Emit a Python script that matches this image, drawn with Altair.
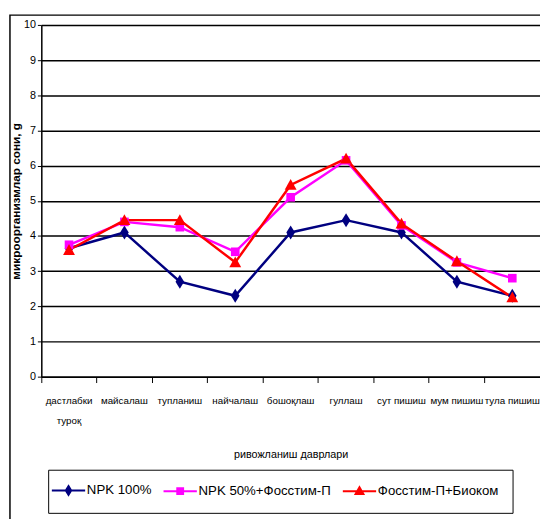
import altair as alt
import pandas as pd

stages = ["дастлабки туроқ", "майсалаш", "тупланиш", "найчалаш", "бошоқлаш",
          "гуллаш", "сут пишиш", "мум пишиш", "тула пишиш"]
series_names = ["NPK 100%", "NPK 50%+Фосстим-П", "Фосстим-П+Биоком"]
npk100 = [3.65, 4.1, 2.7, 2.3, 4.1, 4.45, 4.1, 2.7, 2.3]
npk50_fosstim = [3.75, 4.4, 4.25, 3.55, 5.1, 6.15, 4.3, 3.25, 2.8]
fosstim_biokom = [3.6, 4.45, 4.45, 3.25, 5.45, 6.2, 4.35, 3.28, 2.25]
colors = ["#000080", "#FF00FF", "#FF0000"]
y_ticks = list(range(0, 11))

rows = []
for name, vals in zip(series_names, [npk100, npk50_fosstim, fosstim_biokom]):
    for i, (s, v) in enumerate(zip(stages, vals)):
        rows.append({"stage": s, "idx": i, "series": name, "value": v})
df = pd.DataFrame(rows)

FONT = "Liberation Sans, Arial, sans-serif"

point_paths = ["M0,-1.3L0.8,0L0,1.3L-0.8,0Z",
               "M-0.8,-0.8H0.8V0.8H-0.8Z",
               "M0,-1.1L1.1,0.9L-1.1,0.9Z"]
legend_paths = ["M-3.4,0H3.4M0,-0.9L0.55,0L0,0.9L-0.55,0Z",
                "M-3.4,0H3.4M-0.6,-0.6H0.6V0.6H-0.6Z",
                "M-3.4,0H3.4M0,-0.8L0.8,0.6L-0.8,0.6Z"]

x_axis = alt.Axis(bandPosition=0, labelAngle=0,
                  labelExpr="datum.label == 'дастлабки туроқ' ? ['дастлабки', 'туроқ'] : datum.label",
                  labelFont=FONT, labelFontSize=10, labelColor="black",
                  labelPadding=13, labelLineHeight=21, labelOverlap=False,
                  titleFont=FONT, titleFontSize=11, titleFontWeight="normal",
                  titleColor="black", titlePadding=24,
                  tickColor="black", tickSize=6, domainColor="black",
                  domainWidth=1.5, grid=False)
y_axis = alt.Axis(values=y_ticks, labelFont=FONT, labelFontSize=11,
                  labelColor="black", tickColor="black", tickSize=4,
                  domainColor="black", domainWidth=1.5,
                  grid=True, gridColor="black", gridWidth=1.5,
                  titleFont=FONT, titleFontSize=12, titleFontWeight="bold",
                  titleColor="black", titlePadding=1)


def xe():
    return alt.X("stage:N", sort=stages, bandPosition=0.5,
                 scale=alt.Scale(type="band", domain=stages, paddingInner=0, paddingOuter=0),
                 title="ривожланиш даврлари", axis=x_axis)


def ye():
    return alt.Y("value:Q", scale=alt.Scale(domain=[0, 10], nice=False),
                 title="микроорганизмлар сони, g", axis=y_axis)


color_scale = alt.Scale(domain=series_names, range=colors)

frame = alt.Chart(pd.DataFrame({"a": [0]})).mark_rect(
    fill=None, stroke="black", strokeWidth=1.5
).encode(x=alt.value(-32), x2=alt.value(620), y=alt.value(-10), y2=alt.value(600))

lines = alt.Chart(df).mark_line(strokeWidth=2.5).encode(
    x=xe(), y=ye(),
    color=alt.Color("series:N", scale=color_scale, legend=None),
    order=alt.Order("idx:Q"),
)

point_layers = []
for name, path in zip(series_names, point_paths):
    point_layers.append(
        alt.Chart(df).transform_filter(alt.datum.series == name).mark_point(
            filled=True, size=121, opacity=1, shape=path).encode(
            x=xe(), y=ye(),
            color=alt.Color("series:N", scale=color_scale, legend=None),
        )
    )

leg = alt.Legend(title=None, orient="none", legendX=7, legendY=454,
                 direction="horizontal", strokeColor="black",
                 padding=14, labelFont=FONT, labelFontSize=13.5,
                 labelColor="black", symbolSize=100,
                 symbolStrokeWidth=2, labelOffset=12,
                 columnPadding=7, symbolOpacity=1)
legend_layer = alt.Chart(df).transform_filter("false").mark_point(
    filled=True, strokeWidth=2).encode(
    x=xe(), y=ye(),
    color=alt.Color("series:N", scale=color_scale, legend=leg),
    stroke=alt.Stroke("series:N", scale=color_scale, legend=leg),
    shape=alt.Shape("series:N", scale=alt.Scale(domain=series_names, range=legend_paths),
                    legend=leg),
)

chart = alt.layer(frame, legend_layer, lines, *point_layers).properties(
    width=509, height=359,
    autosize=alt.AutoSizeParams(type="none"),
    padding={"left": 34, "top": 12, "right": 0, "bottom": 140},
).configure_view(stroke=None).configure(background="white")

chart.save("out.html", embed_options={"renderer": "svg", "actions": False})
